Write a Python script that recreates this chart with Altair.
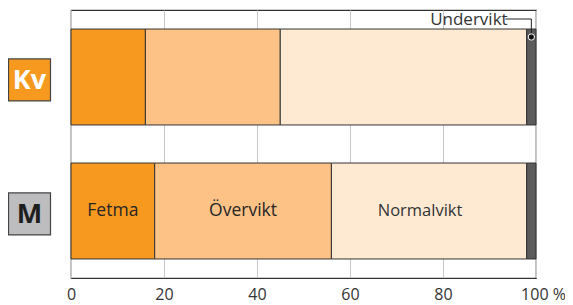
import altair as alt
import pandas as pd

categories = ["Kv", "M"]
segments = ["Fetma", "Övervikt", "Normalvikt", "Undervikt"]
kv_values = [16, 29, 53, 2]
m_values = [18, 38, 42, 2]
seg_colors = ["#F7991F", "#FDC386", "#FEEAD3", "#5B5B5B"]
box_fill = ["#F7991F", "#BDBDBF"]
box_text_color = ["#FFFFFF", "#1E1E1E"]
x_ticks = [0, 20, 40, 60, 80, 100]

rows = []
for cat, vals in zip(categories, [kv_values, m_values]):
    start = 0
    for seg, v in zip(segments, vals):
        rows.append({"cat": cat, "seg": seg, "start": start, "end": start + v,
                     "mid": start + v / 2, "order": segments.index(seg)})
        start += v
df = pd.DataFrame(rows)
boxes = pd.DataFrame({"cat": categories, "fill": box_fill, "tcolor": box_text_color})

FONT = "Open Sans"

xscale = alt.Scale(domain=[0, 100], nice=False, zero=True)
yscale = alt.Scale(domain=categories, paddingInner=0.284, paddingOuter=0.142)

xaxis = alt.Axis(values=x_ticks, grid=True, gridColor="#C8C8C8", gridWidth=1,
                 ticks=False, domainColor="#333333", domainWidth=1.2,
                 labelFontSize=16, labelColor="#333333", labelFont=FONT,
                 labelPadding=8, title=None, labelFlush=False,
                 labelExpr="datum.value == 100 ? '100 %' : datum.label",
                 labelOffset={"condition": {"test": "datum.value == 100", "value": 7}, "value": 0})

base = alt.Chart(df)

bars = base.mark_bar(stroke="#333333", strokeWidth=1).encode(
    x=alt.X("start:Q", scale=xscale, axis=xaxis),
    x2="end:Q",
    y=alt.Y("cat:N", scale=yscale, axis=None),
    color=alt.Color("seg:N", scale=alt.Scale(domain=segments, range=seg_colors), legend=None),
    order="order:Q",
)

lab_bold = base.transform_filter(
    "datum.cat == 'M' && (datum.seg == 'Fetma' || datum.seg == 'Övervikt')"
).mark_text(font=FONT, fontSize=17.5, fontWeight=500, color="#262626").encode(
    x="mid:Q", y=alt.Y("cat:N", scale=yscale), text="seg:N")

lab_norm = base.transform_filter(
    "datum.cat == 'M' && datum.seg == 'Normalvikt'"
).mark_text(font=FONT, fontSize=16.5, color="#333333", dx=-9).encode(
    x="mid:Q", y=alt.Y("cat:N", scale=yscale), text="seg:N")

bchart = alt.Chart(boxes)
box = bchart.mark_square(size=42 * 42, opacity=1, stroke="#444444", strokeWidth=1.2).encode(
    x=alt.value(-41.5),
    y=alt.Y("cat:N", scale=yscale, bandPosition=0.53),
    fill=alt.Fill("fill:N", scale=None),
)
box_text = bchart.mark_text(font=FONT, fontSize=27, fontWeight="bold", baseline="middle", dy=1).encode(
    x=alt.value(-41.5),
    y=alt.Y("cat:N", scale=yscale, bandPosition=0.53),
    text="cat:N",
    color=alt.Color("tcolor:N", scale=None),
)

under_mid = df[(df.cat == "Kv") & (df.seg == "Undervikt")]["mid"].iloc[0]
ann = pd.DataFrame({"label": ["Undervikt"], "x": [93.9], "xl": [93.4], "xm": [under_mid]})
achart = alt.Chart(ann)
ann_text = achart.mark_text(font=FONT, fontSize=17, color="#333333", align="right",
                            baseline="middle").encode(
    x=alt.X("x:Q", scale=xscale), y=alt.value(10), text="label:N")
ann_h = achart.mark_rule(color="#222222", strokeWidth=1).encode(
    x=alt.X("xl:Q", scale=xscale), x2="xm:Q", y=alt.value(9))
ann_v = achart.mark_rule(color="#222222", strokeWidth=1).encode(
    x=alt.X("xm:Q", scale=xscale), y=alt.value(9), y2=alt.value(27))
ann_dot = achart.mark_point(filled=True, size=40, fill="#111111", stroke="#FFFFFF",
                            strokeWidth=1, opacity=1).encode(
    x=alt.X("xm:Q", scale=xscale), y=alt.value(27))

chart = alt.layer(bars, lab_bold, lab_norm, box, box_text, ann_h, ann_v, ann_dot, ann_text).properties(
    width=465, height=268,
    autosize=alt.AutoSizeParams(type="none"),
    padding={"left": 63, "top": 2, "right": 29, "bottom": 27},
).configure_view(stroke="#333333", strokeWidth=1.2)

chart.save("out.html", embed_options={"renderer": "svg", "actions": False})
